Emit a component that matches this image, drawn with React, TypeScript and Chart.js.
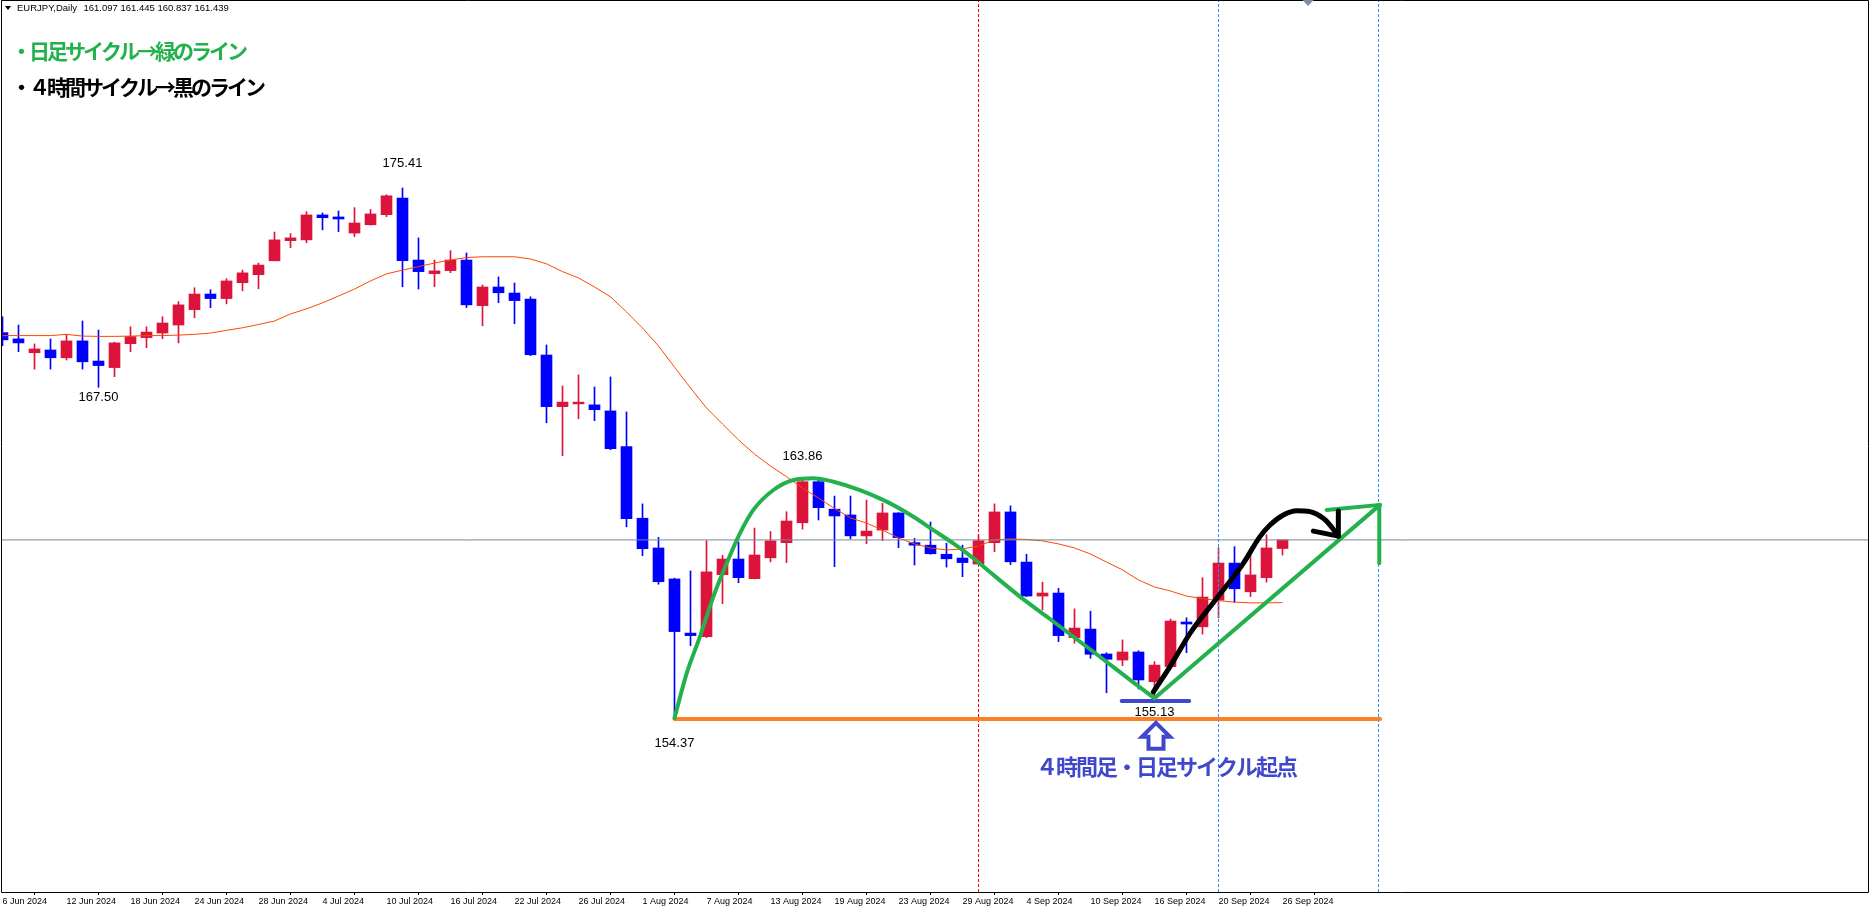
import React, { useEffect, useRef } from 'react';
import { Chart, registerables } from 'chart.js';

Chart.register(...registerables);

// ---- Data (EURJPY, Daily) ----
const TICK_LABELS = [
  '6 Jun 2024', '12 Jun 2024', '18 Jun 2024', '24 Jun 2024', '28 Jun 2024', '4 Jul 2024',
  '10 Jul 2024', '16 Jul 2024', '22 Jul 2024', '26 Jul 2024', '1 Aug 2024', '7 Aug 2024',
  '13 Aug 2024', '19 Aug 2024', '23 Aug 2024', '29 Aug 2024', '4 Sep 2024', '10 Sep 2024',
  '16 Sep 2024', '20 Sep 2024', '26 Sep 2024',
];
const BARS_PER_LABEL = 4;

const OPEN = [
  169.67, 169.42, 168.87, 168.98, 168.67, 169.34, 168.54, 168.28, 169.23, 169.47,
  169.65, 169.97, 170.58, 171.20, 171.02, 171.65, 171.97, 172.52, 173.32, 173.35,
  174.34, 174.26, 173.62, 173.95, 174.35, 175.01, 172.55, 172.01, 172.13, 172.55,
  170.74, 171.48, 171.24, 171.00, 168.78, 166.73, 166.84, 166.80, 166.56, 165.14,
  162.30, 161.12, 159.89, 157.74, 157.60, 160.06, 160.68, 159.90, 160.73, 161.33,
  162.12, 163.75, 162.66, 162.43, 161.60, 161.83, 162.51, 161.33, 161.23, 160.87,
  160.72, 160.48, 161.33, 162.55, 160.56, 159.21, 159.33, 157.56, 157.90, 156.91,
  156.67, 156.99, 155.81, 156.41, 158.18, 157.99, 159.05, 160.52, 159.38, 159.94,
  161.097,
];
const HIGH = [
  170.30, 169.97, 169.22, 169.42, 169.60, 170.13, 169.77, 169.29, 169.90, 169.90,
  170.30, 170.90, 171.45, 171.37, 171.81, 172.15, 172.43, 173.66, 173.60, 174.47,
  174.42, 174.50, 174.63, 174.56, 175.14, 175.41, 173.43, 172.55, 172.92, 172.83,
  171.56, 171.88, 171.64, 171.09, 169.18, 167.55, 167.99, 167.51, 167.91, 166.52,
  162.87, 161.54, 159.92, 160.21, 161.41, 160.83, 161.36, 161.91, 161.77, 162.56,
  163.86, 163.82, 163.18, 163.18, 163.02, 162.89, 162.52, 161.50, 162.15, 161.31,
  161.23, 161.64, 162.87, 162.79, 160.87, 159.76, 159.52, 158.70, 158.61, 156.96,
  157.47, 157.04, 156.61, 158.30, 158.35, 159.94, 161.13, 161.17, 160.84, 161.64,
  161.445,
];
const LOW = [
  169.15, 168.91, 168.22, 168.22, 168.58, 168.22, 167.50, 167.92, 168.91, 169.07,
  169.43, 169.26, 170.26, 170.66, 170.81, 171.33, 171.41, 172.52, 173.04, 173.24,
  173.75, 173.68, 173.48, 173.94, 174.27, 171.49, 171.40, 171.49, 172.05, 170.66,
  169.94, 170.86, 170.02, 168.75, 166.09, 164.78, 166.25, 166.17, 165.02, 161.96,
  160.81, 159.68, 154.37, 157.24, 157.56, 158.91, 159.74, 159.89, 160.57, 160.54,
  161.87, 162.23, 160.38, 161.48, 161.29, 161.41, 161.13, 160.44, 160.87, 160.36,
  159.98, 160.48, 160.97, 160.46, 159.19, 158.66, 157.40, 157.34, 156.74, 155.37,
  156.45, 155.52, 155.13, 156.41, 156.96, 157.70, 158.35, 158.96, 159.19, 159.76,
  160.837,
];
const CLOSE = [
  169.38, 169.26, 169.02, 168.67, 169.34, 168.51, 168.36, 169.26, 169.51, 169.69,
  170.05, 170.77, 171.20, 171.02, 171.72, 172.04, 172.35, 173.35, 173.43, 174.34,
  174.23, 174.18, 174.02, 174.38, 175.10, 172.52, 172.09, 172.12, 172.55, 170.77,
  171.48, 171.25, 170.94, 168.79, 166.73, 166.91, 166.91, 166.61, 165.06, 162.28,
  161.09, 159.78, 157.80, 157.64, 160.17, 160.68, 159.94, 160.84, 161.40, 162.19,
  163.75, 162.72, 162.39, 161.60, 161.79, 162.51, 161.53, 161.23, 160.89, 160.69,
  160.54, 161.41, 162.55, 160.57, 159.21, 159.33, 157.64, 157.94, 156.90, 156.70,
  156.99, 155.88, 156.47, 158.22, 158.10, 159.17, 160.52, 159.50, 160.05, 161.12,
  161.439,
];
// moving average
const MA = [
  169.55, 169.55, 169.55, 169.55, 169.60, 169.53, 169.52, 169.52, 169.53, 169.55,
  169.55, 169.57, 169.60, 169.65, 169.76, 169.86, 169.99, 170.13, 170.41, 170.61,
  170.85, 171.12, 171.40, 171.72, 172.00, 172.15, 172.29, 172.43, 172.55, 172.65,
  172.68, 172.68, 172.68, 172.59, 172.40, 172.09, 171.84, 171.48, 171.09, 170.49,
  169.85, 169.14, 168.30, 167.47, 166.68, 166.04, 165.41, 164.85, 164.37, 163.95,
  163.50, 163.10, 162.69, 162.31, 162.11, 161.83, 161.52, 161.28, 161.12, 161.04,
  161.08, 161.20, 161.44, 161.48, 161.46, 161.40, 161.28, 161.12, 160.88, 160.56,
  160.25, 159.85, 159.57, 159.41, 159.21, 159.11, 159.03, 158.97, 158.94, 158.94,
  158.95,
];
const BID = 161.439;

// high / low labels: [bar index, price]
const HIGH_LABELS = [[25, 175.41], [50, 163.86]];
const LOW_LABELS = [[6, 167.50], [42, 154.37], [72, 155.13]];

// vertical markers (bar index)
const RED_VLINES = [61];
const BLUE_VLINES = [76, 86];

// hand drawn objects: [bar index, price]
const SUPPORT = [[42, 154.33], [86.1, 154.33]];
const GREEN_ARC = [
  [42, 154.37], [42.76, 156.14], [43.59, 157.6], [44.43, 159.19], [45.26, 160.51],
  [46.09, 161.7], [46.93, 162.63], [48.18, 163.42], [49.43, 163.82], [50.68, 163.89],
  [51.93, 163.75], [53.59, 163.42], [55.26, 162.96], [56.93, 162.36], [58.18, 161.83],
  [59.43, 161.3], [60.68, 160.71], [61.93, 160.05], [63.59, 159.19], [65.47, 158.3],
  [68.59, 156.8], [70.47, 155.88], [72, 155.15],
];
const GREEN_UP = [[72, 155.15], [86.09, 162.83]];
const GREEN_HEAD_TOP = [[82.76, 162.63], [86.09, 162.83]];
const GREEN_HEAD_STEM = [[86.05, 162.83], [86.05, 160.51]];
const BLACK_CURVE = [
  [71.93, 155.41], [72.97, 156.41], [74.22, 157.73], [75.89, 159.12], [77.55, 160.51],
  [78.59, 161.57], [79.22, 162.03], [80.05, 162.43], [80.89, 162.6], [81.72, 162.56],
  [82.55, 162.3], [82.97, 162.03], [83.49, 161.59],
];
const BLACK_HEAD_A = [[81.93, 161.79], [83.49, 161.59]];
const BLACK_HEAD_B = [[83.49, 162.59], [83.49, 161.59]];
const BLUE_BAR = [[69.95, 155.04], [74.17, 155.04]];
const START_BAR = 72;

const HEADER_NAME = 'EURJPY,Daily';
const HEADER_OHLC = '161.097 161.445 160.837 161.439';
const NOTE_GREEN = '・日足サイクル→緑のライン';
const NOTE_BLACK = '・４時間サイクル→黒のライン';
const NOTE_BLUE = '４時間足・日足サイクル起点';

// ---- view ----
const X_MIN = -0.09375;
const X_MAX = 116.59375;
const Y_MIN = 147.462;
const Y_MAX = 182.873;

const UP = '#DC143C';
const DOWN = '#0000FF';
const GREEN = '#22B14C';
const INDIGO = '#3F48CC';

const pts = (arr: number[][]) => arr.map(([x, y]) => ({ x, y }));
const vline = (i: number) => [{ x: i, y: Y_MIN }, { x: i, y: Y_MAX }];

const drawLine = (data: any[], color: string, width: number, order: number, extra: any = {}) => ({
  type: 'line',
  data,
  borderColor: color,
  borderWidth: width,
  pointRadius: 0,
  fill: false,
  order,
  borderCapStyle: 'round',
  borderJoinStyle: 'round',
  ...extra,
});

const overlay = {
  id: 'overlay',
  afterDraw(chart: any) {
    const { ctx, chartArea: a, scales } = chart;
    const xs = scales.x;
    const ys = scales.y;
    ctx.save();
    // frame
    ctx.strokeStyle = '#000';
    ctx.lineWidth = 1;
    ctx.beginPath();
    ctx.moveTo(a.left + 0.5, a.bottom + 0.5);
    ctx.lineTo(a.left + 0.5, a.top + 0.5);
    ctx.lineTo(a.right + 0.5, a.top + 0.5);
    ctx.lineTo(a.right + 0.5, a.bottom + 0.5);
    ctx.lineTo(a.left + 0.5, a.bottom + 0.5);
    ctx.stroke();

    // header
    ctx.fillStyle = '#000';
    ctx.beginPath();
    ctx.moveTo(5, 6);
    ctx.lineTo(11, 6);
    ctx.lineTo(8, 10);
    ctx.closePath();
    ctx.fill();
    ctx.font = '9.5px "Liberation Sans", Arial, sans-serif';
    ctx.textBaseline = 'middle';
    ctx.textAlign = 'left';
    ctx.fillText(HEADER_NAME, 17, 8.5);
    ctx.fillText(HEADER_OHLC, 83.5, 8.5);

    // chart shift marker
    const sx = xs.getPixelForValue(81.6);
    ctx.fillStyle = '#7f8c9d';
    ctx.beginPath();
    ctx.moveTo(sx - 5.5, a.top);
    ctx.lineTo(sx + 5.5, a.top);
    ctx.lineTo(sx, a.top + 6);
    ctx.closePath();
    ctx.fill();

    // high / low labels
    ctx.fillStyle = '#000';
    ctx.font = '13px "Liberation Sans", Arial, sans-serif';
    ctx.textAlign = 'center';
    const hiOff = [-25, -23];
    const loOff = [10, 25, 14];
    HIGH_LABELS.forEach(([i, p], k) => {
      ctx.fillText(p.toFixed(2), xs.getPixelForValue(i), ys.getPixelForValue(p) + hiOff[k]);
    });
    LOW_LABELS.forEach(([i, p], k) => {
      ctx.fillText(p.toFixed(2), xs.getPixelForValue(i), ys.getPixelForValue(p) + loOff[k]);
    });

    // notes
    ctx.textAlign = 'left';
    ctx.font = 'bold 21px "Noto Sans CJK JP", sans-serif';
    ctx.letterSpacing = '-3px';
    ctx.fillStyle = GREEN;
    ctx.fillText(NOTE_GREEN, 11, 51);
    ctx.fillStyle = '#000';
    ctx.fillText(NOTE_BLACK, 11, 87);
    ctx.font = 'bold 22px "Noto Sans CJK JP", sans-serif';
    ctx.letterSpacing = '-2px';
    ctx.fillStyle = INDIGO;
    ctx.fillText(NOTE_BLUE, 1036, 767);
    ctx.letterSpacing = '0px';

    // hollow up arrow under the start bar
    const cx = xs.getPixelForValue(START_BAR) + 1.5;
    const ty = ys.getPixelForValue(LOW_LABELS[2][1]) + 24;
    ctx.strokeStyle = INDIGO;
    ctx.lineWidth = 4;
    ctx.lineJoin = 'miter';
    ctx.beginPath();
    ctx.moveTo(cx, ty);
    ctx.lineTo(cx + 14, ty + 14);
    ctx.lineTo(cx + 7.5, ty + 14);
    ctx.lineTo(cx + 7.5, ty + 26);
    ctx.lineTo(cx - 7.5, ty + 26);
    ctx.lineTo(cx - 7.5, ty + 14);
    ctx.lineTo(cx - 14, ty + 14);
    ctx.closePath();
    ctx.stroke();
    ctx.restore();
  },
};

export default function App() {
  const ref = useRef<HTMLCanvasElement>(null);
  useEffect(() => {
    document.body.style.margin = '0';
    document.body.style.overflow = 'hidden';
    document.body.style.background = '#fff';
    const n = CLOSE.length;
    const colors = CLOSE.map((c, i) => (c >= OPEN[i] ? UP : DOWN));
    const idx = Array.from({ length: n }, (_, i) => i);
    const chart = new Chart(ref.current as HTMLCanvasElement, {
      type: 'bar',
      data: {
        datasets: [
          drawLine(pts(BLACK_CURVE), '#000', 5, 1, { tension: 0.4, cubicInterpolationMode: 'monotone' }),
          drawLine(pts(BLACK_HEAD_A), '#000', 5, 1),
          drawLine(pts(BLACK_HEAD_B), '#000', 5, 1),
          drawLine(pts(GREEN_ARC), GREEN, 4, 2, { cubicInterpolationMode: 'monotone' }),
          drawLine(pts(GREEN_UP), GREEN, 4, 2),
          drawLine(pts(GREEN_HEAD_TOP), GREEN, 4, 2),
          drawLine(pts(GREEN_HEAD_STEM), GREEN, 4, 2),
          drawLine(pts(BLUE_BAR), INDIGO, 4, 2),
          drawLine(pts(SUPPORT), '#FF7F27', 4, 3),
          ...RED_VLINES.map((i) => drawLine(vline(i), '#FF0000', 1, 4, { borderDash: [3, 2], borderCapStyle: 'butt' })),
          ...BLUE_VLINES.map((i) => drawLine(vline(i), '#1E90FF', 1, 4, { borderDash: [3, 2], borderCapStyle: 'butt' })),
          drawLine([{ x: X_MIN, y: BID }, { x: X_MAX, y: BID }], '#778899', 1, 4, { borderCapStyle: 'butt' }),
          drawLine(idx.map((i) => ({ x: i, y: MA[i] })), '#FF4500', 1, 5, { borderCapStyle: 'butt' }),
          {
            type: 'bar',
            data: idx.map((i) => ({ x: i, y: [OPEN[i], CLOSE[i]] })),
            backgroundColor: colors,
            borderWidth: 0,
            barThickness: 11,
            minBarLength: 1,
            grouped: false,
            order: 8,
          },
          {
            type: 'bar',
            data: idx.map((i) => ({ x: i, y: [LOW[i], HIGH[i]] })),
            backgroundColor: colors,
            borderWidth: 0,
            barThickness: 1,
            grouped: false,
            order: 9,
          },
        ] as any,
      },
      options: {
        responsive: false,
        maintainAspectRatio: false,
        devicePixelRatio: 1,
        animation: false,
        events: [],
        layout: { padding: { left: 1, right: 2, top: 0, bottom: 0 } },
        plugins: { legend: { display: false }, tooltip: { enabled: false } },
        scales: {
          x: {
            type: 'linear',
            min: X_MIN,
            max: X_MAX,
            offset: false,
            border: { display: false },
            grid: { display: true, drawOnChartArea: false, drawTicks: true, tickLength: 3, color: '#000' },
            ticks: {
              align: 'start',
              autoSkip: false,
              maxRotation: 0,
              padding: 1,
              color: '#000',
              font: { family: '"Liberation Sans", Arial, sans-serif', size: 9 },
              callback: (_v: any, k: number) => TICK_LABELS[k],
            },
            afterBuildTicks: (scale: any) => {
              scale.ticks = TICK_LABELS.map((_, k) => ({ value: k * BARS_PER_LABEL }));
            },
            afterFit: (scale: any) => {
              scale.height = 15;
            },
          },
          y: { type: 'linear', display: false, min: Y_MIN, max: Y_MAX },
        },
      } as any,
      plugins: [overlay],
    });
    (document as any).fonts?.ready?.then(() => chart.draw());
    return () => chart.destroy();
  }, []);
  return (
    <div style={{ width: 1870, height: 907, background: '#fff' }}>
      <canvas ref={ref} width={1870} height={907} style={{ display: 'block', width: 1870, height: 907 }} />
    </div>
  );
}
